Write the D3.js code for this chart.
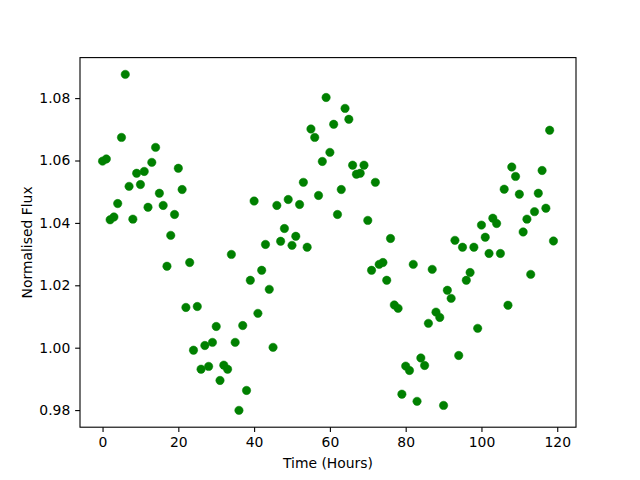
<!DOCTYPE html>
<html>
<head>
<meta charset="utf-8">
<script src="https://cdn.jsdelivr.net/npm/d3@7"></script>
<style>
  body { margin: 0; background: #fff; }
  svg text { font-family: "DejaVu Sans", sans-serif; fill: #000; }
</style>
</head>
<body>
<svg id="chart"></svg>
<script>
// hours since start of observation, one reading per hour
const hours = d3.range(0, 120);

const flux = [
  1.0598, 1.0605, 1.0410, 1.0419, 1.0462, 1.0674, 1.0876, 1.0517, 1.0412, 1.0559,
  1.0523, 1.0565, 1.0450, 1.0594, 1.0642, 1.0495, 1.0456, 1.0261, 1.0360, 1.0427,
  1.0575, 1.0507, 1.0129, 1.0273, 0.9992, 1.0132, 0.9931, 1.0007, 0.9940, 1.0017,
  1.0068, 0.9895, 0.9944, 0.9931, 1.0299, 1.0017, 0.9799, 1.0071, 0.9863, 1.0216,
  1.0470, 1.0110, 1.0248, 1.0331, 1.0187, 1.0001, 1.0456, 1.0341, 1.0382, 1.0475,
  1.0328, 1.0357, 1.0459, 1.0530, 1.0322, 1.0701, 1.0674, 1.0488, 1.0597, 1.0802,
  1.0626, 1.0716, 1.0427, 1.0507, 1.0767, 1.0732, 1.0585, 1.0556, 1.0559, 1.0585,
  1.0408, 1.0248, 1.0530, 1.0267, 1.0273, 1.0216, 1.0350, 1.0137, 1.0126, 0.9851,
  0.9941, 0.9927, 1.0267, 0.9828, 0.9967, 0.9943, 1.0078, 1.0251, 1.0114, 1.0097,
  0.9815, 1.0184, 1.0158, 1.0344, 0.9975, 1.0322, 1.0216, 1.0241, 1.0322, 1.0062,
  1.0393, 1.0354, 1.0302, 1.0415, 1.0398, 1.0302, 1.0508, 1.0136, 1.0579, 1.0549,
  1.0492, 1.0371, 1.0412, 1.0235, 1.0436, 1.0495, 1.0568, 1.0447, 1.0697, 1.0342
];

const xTicks = [0, 20, 40, 60, 80, 100, 120];
const yTicks = [0.98, 1.00, 1.02, 1.04, 1.06, 1.08];

const width = 640;
const height = 480;
const margin = { top: 57.6, right: 64, bottom: 52.8, left: 80 };
const tick = 4.86;

const svg = d3.select('#chart')
  .attr('width', width)
  .attr('height', height);

// matplotlib style 5% padding around data
const pad = (ext) => {
  const d = (ext[1] - ext[0]) * 0.05;
  return [ext[0] - d, ext[1] + d];
};

const x = d3.scaleLinear()
  .domain(pad(d3.extent(hours)))
  .range([margin.left, width - margin.right]);

const y = d3.scaleLinear()
  .domain(pad(d3.extent(flux)))
  .range([height - margin.bottom, margin.top]);

const xAxis = svg.append('g')
  .attr('transform', `translate(0,${height - margin.bottom})`)
  .call(d3.axisBottom(x).tickValues(xTicks).tickFormat(d3.format('d'))
    .tickSize(tick).tickPadding(4.86).tickSizeOuter(0));

const yAxis = svg.append('g')
  .attr('transform', `translate(${margin.left},0)`)
  .call(d3.axisLeft(y).tickValues(yTicks).tickFormat(d3.format('.2f'))
    .tickSize(tick).tickPadding(4.86).tickSizeOuter(0));

[xAxis, yAxis].forEach((g) => {
  g.select('.domain').remove();
  g.selectAll('.tick line').attr('stroke', '#000').attr('stroke-width', 1.1);
  g.selectAll('.tick text').attr('font-size', 13.9).attr('font-family', '"DejaVu Sans", sans-serif');
});

svg.append('g')
  .selectAll('circle')
  .data(hours)
  .enter()
  .append('circle')
  .attr('cx', (d) => x(d))
  .attr('cy', (d, i) => y(flux[i]))
  .attr('r', 4.2)
  .attr('fill', '#008000')
  .attr('stroke', '#008000')
  .attr('stroke-width', 0.5);

// frame
svg.append('rect')
  .attr('x', margin.left)
  .attr('y', margin.top)
  .attr('width', width - margin.left - margin.right)
  .attr('height', height - margin.top - margin.bottom)
  .attr('fill', 'none')
  .attr('stroke', '#000')
  .attr('stroke-width', 1.1);

svg.append('text')
  .attr('x', (margin.left + width - margin.right) / 2)
  .attr('y', 468)
  .attr('text-anchor', 'middle')
  .attr('font-size', 13.9)
  .text('Time (Hours)');

svg.append('text')
  .attr('transform', `translate(32,${(margin.top + height - margin.bottom) / 2}) rotate(-90)`)
  .attr('text-anchor', 'middle')
  .attr('font-size', 13.9)
  .text('Normalised Flux');
</script>
</body>
</html>
